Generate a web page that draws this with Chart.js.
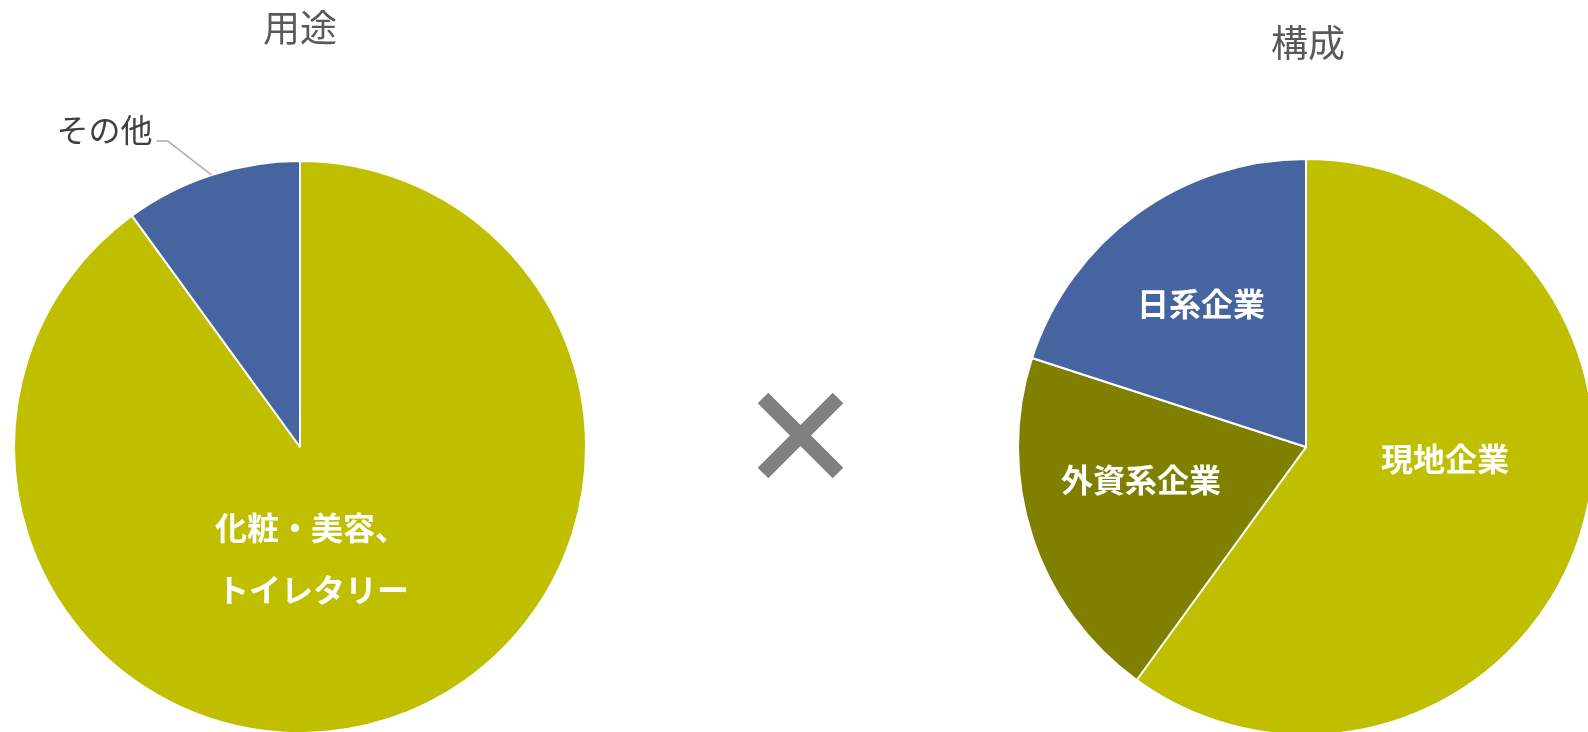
<!DOCTYPE html>
<html>
<head>
<meta charset="utf-8">
<script src="https://cdn.jsdelivr.net/npm/chart.js@4"></script>
<style>
html, body { margin: 0; padding: 0; background: #fff; }
#wrap { position: relative; width: 1588px; height: 732px; overflow: hidden; }
canvas { position: absolute; left: 0; top: 0; }
</style>
</head>
<body>
<div id="wrap">
    <canvas id="useChart" width="1588" height="732"></canvas>
    <canvas id="makeupChart" width="1588" height="732"></canvas>
</div>
<script>
const useTitle = '用途';
const useLabels = ['化粧・美容、トイレタリー', 'その他'];
const useValues = [90, 10];

const makeupTitle = '構成';
const makeupLabels = ['現地企業', '外資系企業', '日系企業'];
const makeupValues = [60, 20, 20];

const FONT = '"Noto Sans CJK JP", "Noto Sans", sans-serif';

// left pie: labels, leader line, title
const useLabelPlugin = {
    id: 'useLabels',
    afterDraw(chart) {
        const ctx = chart.ctx;
        const arcs = chart.getDatasetMeta(0).data;
        const cx = arcs[0].x, cy = arcs[0].y, r = arcs[0].outerRadius;
        ctx.save();

        ctx.fillStyle = '#fff';
        ctx.font = 'bold 32px ' + FONT;
        ctx.textAlign = 'left';
        ctx.textBaseline = 'middle';
        const lines = useLabels[0].split(/(?<=、)/);
        ctx.fillText(lines[0], cx - 85, cy + 81);
        ctx.fillText(lines[1], cx - 83, cy + 143);

        // その他 sits outside with a leader line
        const a1 = arcs[1];
        const mid = (a1.startAngle + a1.endAngle) / 2;
        const px = cx + Math.cos(mid) * r;
        const py = cy + Math.sin(mid) * r;
        ctx.strokeStyle = '#a6a6a6';
        ctx.lineWidth = 1.5;
        ctx.beginPath();
        ctx.moveTo(px, py);
        ctx.lineTo(px - 44, py - 34);
        ctx.lineTo(px - 55, py - 34);
        ctx.stroke();
        ctx.fillStyle = '#404040';
        ctx.font = '32px ' + FONT;
        ctx.textAlign = 'right';
        ctx.fillText(useLabels[1], px - 59, py - 45);

        ctx.fillStyle = '#595959';
        ctx.font = '37px ' + FONT;
        ctx.textAlign = 'center';
        ctx.fillText(useTitle, cx, 28);
        ctx.restore();
    }
};

// right pie: labels, title and the × between the pies
const makeupOffsets = [[139, 12], [-165, 33], [-105, -143]];

const makeupLabelPlugin = {
    id: 'makeupLabels',
    afterDraw(chart) {
        const ctx = chart.ctx;
        const arcs = chart.getDatasetMeta(0).data;
        const cx = arcs[0].x, cy = arcs[0].y;
        ctx.save();
        ctx.fillStyle = '#fff';
        ctx.font = 'bold 32px ' + FONT;
        ctx.textAlign = 'center';
        ctx.textBaseline = 'middle';
        makeupLabels.forEach((label, i) => {
            ctx.fillText(label, cx + makeupOffsets[i][0], cy + makeupOffsets[i][1]);
        });

        ctx.fillStyle = '#595959';
        ctx.font = '37px ' + FONT;
        ctx.fillText(makeupTitle, cx + 2, 43);

        ctx.strokeStyle = '#808080';
        ctx.lineWidth = 15;
        ctx.lineCap = 'butt';
        ctx.beginPath();
        ctx.moveTo(763, 398); ctx.lineTo(838, 473);
        ctx.moveTo(838, 398); ctx.lineTo(763, 473);
        ctx.stroke();
        ctx.restore();
    }
};

new Chart(document.getElementById('useChart'), {
    type: 'pie',
    data: {
        labels: useLabels,
        datasets: [{
            data: useValues,
            backgroundColor: ['#bfbf00', '#4564a0'],
            borderColor: '#fff',
            borderWidth: 2
        }]
    },
    options: {
        responsive: false,
        animation: false,
        events: [],
        radius: 286,
        layout: { padding: { left: 0, right: 988, top: 162, bottom: 0 } },
        plugins: {
            legend: { display: false },
            tooltip: { enabled: false }
        }
    },
    plugins: [useLabelPlugin]
});

new Chart(document.getElementById('makeupChart'), {
    type: 'pie',
    data: {
        labels: makeupLabels,
        datasets: [{
            data: makeupValues,
            backgroundColor: ['#bfbf00', '#808000', '#4564a0'],
            borderColor: '#fff',
            borderWidth: 2
        }]
    },
    options: {
        responsive: false,
        animation: false,
        events: [],
        radius: 288,
        layout: { padding: { left: 1024, right: 0, top: 162, bottom: 0 } },
        plugins: {
            legend: { display: false },
            tooltip: { enabled: false }
        }
    },
    plugins: [makeupLabelPlugin]
});
</script>
</body>
</html>
